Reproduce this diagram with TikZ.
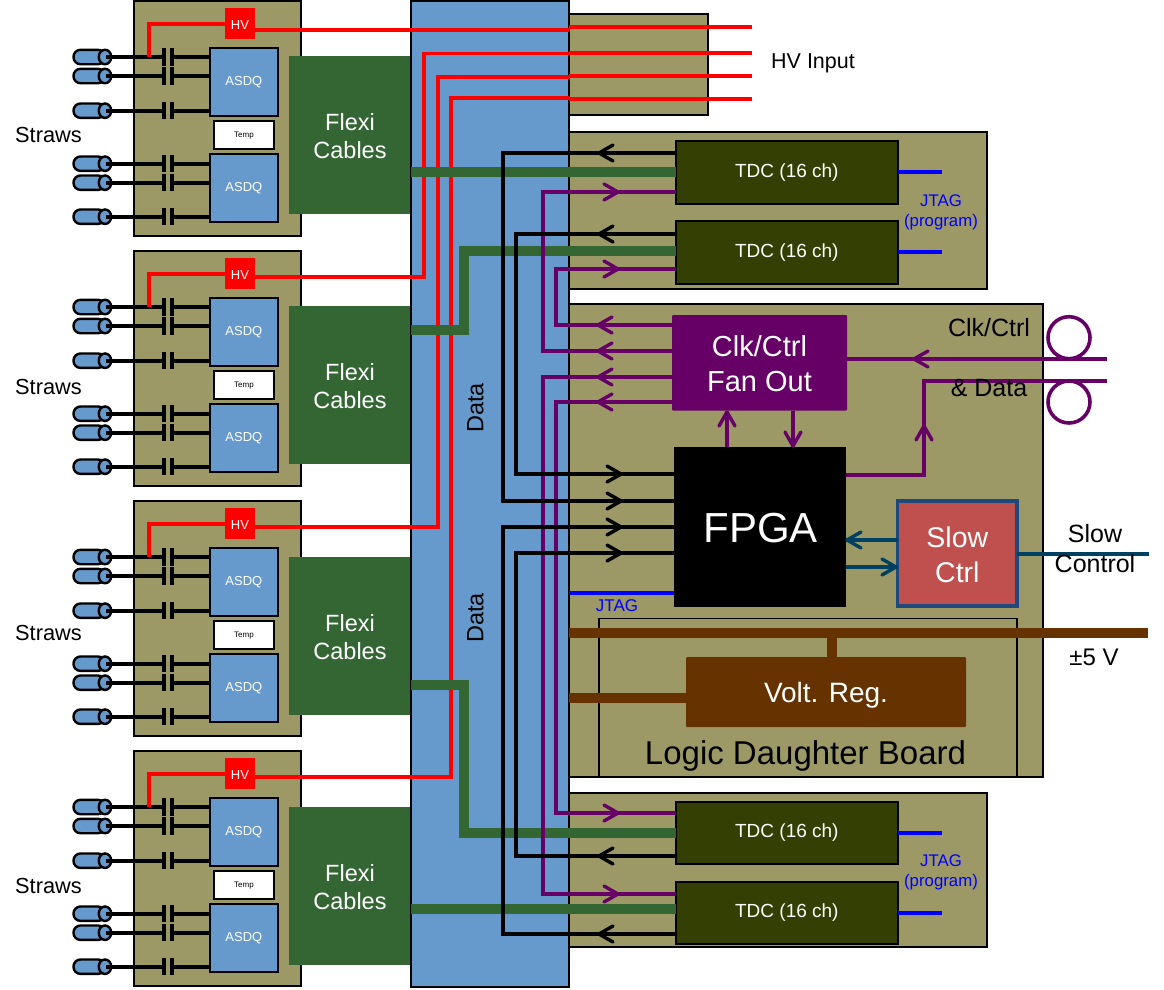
\documentclass[tikz,border=0pt]{standalone}
\usepackage{fontspec}
\setmainfont{Liberation Sans}
\definecolor{board}{HTML}{9C9966}
\definecolor{busblue}{HTML}{6699CC}
\definecolor{tdcgreen}{HTML}{333F03}
\definecolor{flexgreen}{HTML}{336633}
\definecolor{clkpurple}{HTML}{660066}
\definecolor{regbrown}{HTML}{663300}
\definecolor{slowred}{HTML}{C0504D}
\definecolor{slowedge}{HTML}{1F497D}
\definecolor{slowteal}{HTML}{004060}
\newcommand{\fsz}[1]{\fontsize{#1}{#1}\selectfont}
\newcommand{\low}[2]{\raisebox{-#1pt}[\height][\depth]{#2}}
\newcommand{\boxn}[7]{%
  \pgfmathsetmacro\bw{#4-#2}\pgfmathsetmacro\bh{#5-#3}%
  \pgfmathsetmacro\bx{(#2+#4)/2}\pgfmathsetmacro\by{(#3+#5)/2}%
  \node[#6,minimum width=\bw pt,minimum height=\bh pt] (#1) at (\bx,\by) {#7};}
\newcommand{\barb}[4]{\draw[barbtip,#1,shift={(#2,#3)},rotate=#4] (-14,-8) -- (0,0) -- (-14,8);}
\tikzset{
  x=1pt,y=-1pt,
  box/.style={rectangle,inner sep=0pt,outer sep=0pt,align=center},
  boardbox/.style={box,draw=black,line width=2pt,fill=board},
  busbox/.style={box,draw=black,line width=2pt,fill=busblue},
  hvbox/.style={box,fill=red,text=white,font=\fsz{13}},
  asdqbox/.style={box,draw=black,line width=1.6pt,fill=busblue,text=white,font=\fsz{13}},
  tempbox/.style={box,draw=black,line width=1.6pt,fill=white,font=\fsz{8}},
  flexbox/.style={box,fill=flexgreen,text=white,font=\fontsize{23.5}{28}\selectfont},
  tdcbox/.style={box,draw=black,line width=1.6pt,fill=tdcgreen,text=white,font=\fsz{19}},
  clkbox/.style={box,rounded corners=1pt,fill=clkpurple,text=white,font=\fontsize{29}{35}\selectfont},
  fpgabox/.style={box,fill=black,text=white,font=\fsz{42}},
  slowbox/.style={box,draw=slowedge,line width=3.2pt,fill=slowred,text=white,font=\fontsize{28.5}{35}\selectfont},
  regbox/.style={box,rounded corners=1pt,fill=regbrown,text=white,font=\fsz{28}},
  daughterbox/.style={box,draw=black,line width=1.5pt},
  label/.style={inner sep=0pt,outer sep=0pt,align=center,text=black},
  strawend/.style={ellipse,inner sep=0pt,outer sep=0pt,draw=black,line width=2.4pt,fill=busblue,minimum width=12.5pt,minimum height=14.5pt},
  wire/.style={draw=black,line width=3.6pt},
  plate/.style={draw=black,line width=3.6pt},
  hvline/.style={draw=red,line width=3.6pt},
  greenbus/.style={draw=flexgreen,line width=10pt},
  purpline/.style={draw=clkpurple,line width=3.6pt},
  blackline/.style={draw=black,line width=3.8pt},
  jtagline/.style={draw=blue,line width=3.6pt},
  brownline/.style={draw=regbrown,line width=10pt},
  tealline/.style={draw=slowteal,line width=3.6pt},
  barbtip/.style={line width=3.4pt,line cap=round,line join=round,fill=none},
}
\usetikzlibrary{shapes.geometric}
\begin{document}
\begin{tikzpicture}
\useasboundingbox (0,0) rectangle (1164,989);
\fill[white] (0,0) rectangle (1164,989);
% front-end boards
\foreach \n in {0,1,2,3}{
 \begin{scope}[yshift=-\n*250pt]
  \boxn{fe\n}{134}{1}{301}{236}{boardbox}{}
  \boxn{asdqa\n}{209.7}{48}{278}{116}{asdqbox}{ASDQ}
  \boxn{asdqb\n}{209.7}{154}{278}{222}{asdqbox}{ASDQ}
  \boxn{temp\n}{214}{121}{274}{149}{tempbox}{\low{1}{Temp}}
  \boxn{hv\n}{225}{8}{255}{39}{hvbox}{\low{1.5}{HV}}
  \foreach \i/\y/\a in {1/57/a,2/76/a,3/110.7/a,4/163.7/b,5/182.7/b,6/216.7/b}{
    \fill[busblue,draw=black,line width=2.4pt,rounded corners=7pt] (73.5,\y-7.2) rectangle (105,\y+7.2);
    \node[strawend] (st\n-\i) at (105,\y) {};
    \coordinate (sw\n-\i) at (106,\y);
    \draw[wire] (sw\n-\i) -- (164,\y);
    \draw[wire] (172,\y) -- (asdq\a\n.west |- 0,\y);
    \draw[plate] (164,\y-8.7) -- (164,\y+8.7);
    \draw[plate] (172,\y-8.7) -- (172,\y+8.7);
  }
  \coordinate (hvtap\n) at (149,57);
  \draw[hvline,line width=4pt] (hv\n.west |- 0,24) -| (hvtap\n);
 \end{scope}
}
% flexi cables
\foreach \n/\y in {0/56,1/306,2/557,3/807}{
  \pgfmathsetmacro\ye{\y+158}
  \boxn{flexi\n}{289}{\y}{411}{\ye}{flexbox}{\low{4}{\strut Flexi}\\\low{4}{\strut Cables}}
}
% central bus and right-hand boards
\boxn{bus}{411}{1}{569}{987}{busbox}{}
\boxn{hvboard}{569}{14}{707.5}{115}{boardbox}{}
\boxn{tdcup}{569}{132}{987}{289}{boardbox}{}
\boxn{logic}{569}{304}{1043}{777}{boardbox}{}
\boxn{tdclow}{569}{793}{987}{947}{boardbox}{}
\boxn{daughter}{599}{618.7}{1017}{777}{daughterbox}{}
\boxn{tdcA}{675.7}{141}{898}{204}{tdcbox}{TDC (16 ch)}
\boxn{tdcB}{675.7}{220.7}{898}{284}{tdcbox}{TDC (16 ch)}
\boxn{tdcC}{675.7}{802}{898}{864}{tdcbox}{TDC (16 ch)}
\boxn{tdcD}{675.7}{882}{898}{944}{tdcbox}{TDC (16 ch)}
\boxn{clk}{672}{315}{847}{410.7}{clkbox}{\low{1}{Clk/Ctrl}\\\low{1}{Fan Out}}
\boxn{fpga}{673.5}{447}{846}{606.7}{fpgabox}{\hspace{2pt}\low{1}{FPGA}}
\boxn{slow}{897.7}{501}{1017}{606}{slowbox}{\low{1}{Slow}\\\low{1}{Ctrl}}
\boxn{reg}{686}{657}{966}{727}{regbox}{\low{3}{Volt. Reg.}}
% fibre loops
\node[circle,draw=clkpurple,line width=3.6pt,minimum size=42pt,inner sep=0pt] (loopa) at (1069,337.7) {};
\node[circle,draw=clkpurple,line width=3.6pt,minimum size=42pt,inner sep=0pt] (loopb) at (1069,402) {};
% free ends
\foreach \k/\y in {1/27,2/53,3/76,4/99}{\coordinate (hvin\k) at (752,\y);}
\coordinate (fibin) at (1107,359);
\coordinate (fibout) at (1107,381);
\coordinate (slowout) at (1149,554);
\coordinate (powin) at (1148,632.7);
% HV lines
\foreach \k/\y in {1/27,2/53,3/76,4/99}{\draw[hvline] (bus.east |- 0,\y) -- (hvin\k);}
\draw[hvline] (hv0.east |- 0,30) -- (bus.east |- 0,30);
\draw[hvline] (bus.east |- 0,53.5) -| (424,277) -- (hv1.east |- 0,277);
\draw[hvline] (bus.east |- 0,77) -| (438,526.7) -- (hv2.east |- 0,526.7);
\draw[hvline] (bus.east |- 0,98) -| (451,776.7) -- (hv3.east |- 0,776.7);
% flexi to TDC
\draw[greenbus] (flexi0.east |- 0,172) -- (tdcA.west |- 0,172);
\draw[greenbus] (flexi1.east |- 0,330) -| (464,251) -- (tdcB.west |- 0,251);
\draw[greenbus] (flexi2.east |- 0,685) -| (464,833) -- (tdcC.west |- 0,833);
\draw[greenbus] (flexi3.east |- 0,909) -- (tdcD.west |- 0,909);
% clock fan-out
\draw[purpline] (clk.west |- 0,325) -| (556,269) -- (tdcB.west |- 0,269);
\draw[purpline] (clk.west |- 0,351) -| (543,192) -- (tdcA.west |- 0,192);
\draw[purpline] (clk.west |- 0,377) -| (543,894) -- (tdcD.west |- 0,894);
\draw[purpline] (clk.west |- 0,402) -| (556,813) -- (tdcC.west |- 0,813);
\foreach \y in {325,351,377,402}{\barb{clkpurple}{598}{\y}{180}}
\foreach \y in {192,269,813,894}{\barb{clkpurple}{618}{\y}{0}}
% data
\draw[blackline] (tdcA.west |- 0,153) -| (503,501) -- (fpga.west |- 0,501);
\draw[blackline] (tdcB.west |- 0,234) -| (516,474) -- (fpga.west |- 0,474);
\draw[blackline] (tdcC.west |- 0,856) -| (516,553) -- (fpga.west |- 0,553);
\draw[blackline] (tdcD.west |- 0,934) -| (503,527) -- (fpga.west |- 0,527);
\foreach \y in {153,234,856,934}{\barb{black}{599}{\y}{180}}
\foreach \y in {474,501,527,553}{\barb{black}{621}{\y}{0}}
% JTAG
\draw[jtagline] (fpga.west |- 0,593) -- (logic.west |- 0,593);
\draw[jtagline] (tdcA.east |- 0,171.7) -- +(44,0);
\draw[jtagline] (tdcB.east |- 0,251.7) -- +(44,0);
\draw[jtagline] (tdcC.east |- 0,833) -- +(44,0);
\draw[jtagline] (tdcD.east |- 0,913) -- +(44,0);
% power
\draw[brownline] (logic.west |- powin) -- (powin);
\draw[brownline] (logic.west |- 0,697.7) -- (reg.west |- 0,697.7);
\draw[brownline] (reg.north -| 832,0) -- (832,632.7);
% clk and fpga
\draw[purpline] (fpga.north -| 727,0) -- (clk.south -| 727,0);
\barb{clkpurple}{727}{412}{90}
\draw[purpline] (clk.south -| 793,0) -- (fpga.north -| 793,0);
\barb{clkpurple}{793}{446}{-90}
\draw[purpline] (fibin) -- (clk.east |- fibin);
\barb{clkpurple}{914}{359}{180}
\draw[purpline] (fibout) -| (924,474.7) -- (fpga.east |- 0,474.7);
\barb{clkpurple}{924}{426}{90}
% slow control
\draw[tealline] (slow.west |- 0,540) -- (fpga.east |- 0,540);
\barb{slowteal}{847}{540}{180}
\draw[tealline] (fpga.east |- 0,567) -- (slow.west |- 0,567);
\barb{slowteal}{896}{567}{0}
\draw[tealline,line width=4pt] (slow.east |- slowout) -- (slowout);
% labels
\foreach \k/\y in {a/135,b/387,c/633,d/886}{\node[label,font=\fsz{21.8}] (straws\k) at (48.5,\y) {Straws};}
\node[label,font=\fsz{21.5}] (hvinput) at (813,63) {HV Input};
\node[label,font=\fsz{23.5},rotate=90] (dataa) at (475.5,408) {Data};
\node[label,font=\fsz{23.5},rotate=90] (datab) at (475.5,618) {Data};
\node[label,text=blue,font=\fontsize{16.8}{20}\selectfont] (jtaga) at (941,212.5) {JTAG\\(program)};
\node[label,text=blue,font=\fontsize{16.8}{20}\selectfont] (jtagb) at (941,872.5) {JTAG\\(program)};
\node[label,text=blue,font=\fsz{17}] (jtagc) at (617,606) {JTAG};
\node[label,font=\fsz{25}] (clklab) at (989,328) {Clk/Ctrl};
\node[label,font=\fsz{25}] (datalab) at (989,388) {\& Data};
\node[label,font=\fontsize{25}{30}\selectfont] (slowlab) at (1095,548.5) {Slow\\Control};
\node[label,font=\fsz{24}] (pm) at (1094,657) {±5 V};
\node[label,font=\fsz{33}] (ldb) at (805.5,756) {Logic Daughter Board};
\end{tikzpicture}
\end{document}
